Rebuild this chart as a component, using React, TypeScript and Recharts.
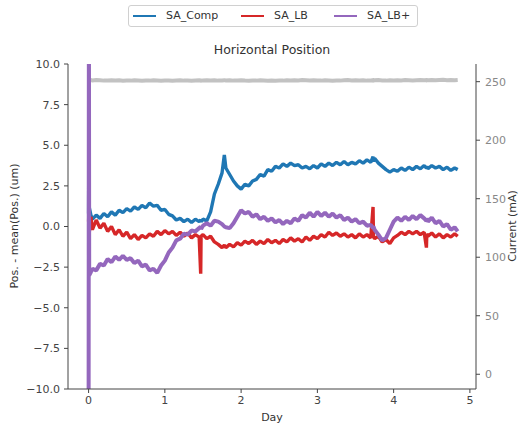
import React from "react"
import { LineChart, Line, XAxis, YAxis } from "recharts"

document.body.style.margin = "0"

// day axis (shared by every series)
const days = [
  0, 0.004, 0.008, 0.03,
  0.05, 0.1, 0.15, 0.2, 0.25, 0.3, 0.35, 0.4, 0.45, 0.5, 0.55, 0.6, 0.65, 0.7, 0.75, 0.8, 0.85, 0.9, 0.95, 1.0, 1.05, 1.1, 1.15, 1.2, 1.25, 1.3, 1.35, 1.4, 1.45,
  1.47, 1.475,
  1.5, 1.55, 1.6, 1.65, 1.7, 1.75,
  1.78,
  1.8, 1.85, 1.9, 1.95, 2.0, 2.05, 2.1, 2.15, 2.2, 2.25, 2.3, 2.35, 2.4, 2.45, 2.5, 2.55, 2.6, 2.65, 2.7, 2.75, 2.8, 2.85, 2.9, 2.95,
  3.0, 3.05, 3.1, 3.15, 3.2, 3.25, 3.3, 3.35, 3.4, 3.45, 3.5, 3.55, 3.6, 3.65, 3.7,
  3.73, 3.735,
  3.75, 3.8, 3.85, 3.9, 3.95, 4.0, 4.05, 4.1, 4.15, 4.2, 4.25, 4.3, 4.35, 4.4,
  4.43, 4.435,
  4.45, 4.5, 4.55, 4.6, 4.65, 4.7, 4.75, 4.8,
  4.84,
]

const saComp = [
  0.8, 5.6, 1.2, 0.7,
  0.45, 0.7, 0.5, 0.8, 0.6, 0.9, 0.7, 1.0, 0.85, 1.1, 0.95, 1.2, 1.05, 1.3, 1.15, 1.45, 1.25, 1.3, 1.0, 1.05, 0.75, 0.65, 0.4, 0.5, 0.3, 0.45, 0.25, 0.45, 0.3,
  0.4, 0.3,
  0.45, 0.35, 0.9, 2.0, 2.6, 3.3,
  4.4,
  3.6, 3.2, 2.8, 2.5, 2.3, 2.6, 2.5, 2.8, 2.9, 3.2, 3.1, 3.5, 3.4, 3.7, 3.6, 3.85, 3.7, 3.9, 3.75, 3.8,
  3.6, 3.7, 3.55, 3.75, 3.6, 3.85, 3.7, 3.9, 3.75, 3.95, 3.8, 4.0, 3.8, 3.95, 3.85, 4.05, 3.9, 4.1, 3.95,
  4.3, 4.0,
  4.2, 3.9, 3.7, 3.5, 3.35, 3.5, 3.4, 3.6, 3.45, 3.65, 3.5, 3.7, 3.55, 3.75,
  3.6, 3.7,
  3.55, 3.75, 3.6, 3.7, 3.5, 3.65, 3.45, 3.6,
  3.5,
]

const saLB = [
  0.3, 0.9, -0.4, 0.6,
  -0.2, 0.4, -0.1, 0.2, -0.3, 0.0, -0.5, -0.2, -0.6, -0.35, -0.75, -0.5, -0.8, -0.55, -0.7, -0.45, -0.6, -0.3, -0.5, -0.25, -0.45, -0.3, -0.55, -0.35, -0.6, -0.4, -0.7, -0.5, -0.65,
  -2.9, -0.6,
  -0.5, -0.75, -0.6, -0.95, -1.1, -1.3,
  -1.15,
  -1.3, -1.1, -1.25, -1.0, -1.15, -0.9, -1.05, -0.85, -1.1, -0.9, -1.05, -0.8, -1.0, -0.85, -1.05, -0.8, -0.95, -0.7, -0.9, -0.75,
  -0.95, -0.65, -0.85, -0.6, -0.75, -0.5, -0.65, -0.35, -0.55, -0.4, -0.6, -0.45, -0.65, -0.5, -0.7, -0.45, -0.65, -0.5, -0.7,
  1.2, -0.6,
  -0.75, -0.6, -0.95, -0.8, -1.05, -0.7, -0.55, -0.35, -0.5, -0.3, -0.45, -0.3, -0.5, -0.35,
  -1.3, -0.45,
  -0.6, -0.4, -0.65, -0.45, -0.7, -0.5, -0.65, -0.45,
  -0.6,
]

const saLBPlus = [
  -14, 14, -3.0, -2.8,
  -2.6, -2.7, -2.3, -2.4, -2.0, -2.2, -1.85, -2.05, -1.8, -2.05, -1.95, -2.25, -2.1, -2.45, -2.35, -2.7, -2.6, -2.85, -2.4, -2.1, -1.6, -1.3, -0.85, -0.75, -0.45, -0.5, -0.25, -0.3, -0.1,
  0.0, -0.15,
  0.05, 0.2, 0.05, 0.35, 0.3, 0.15,
  0.0,
  -0.05, -0.1, 0.2, 0.6, 1.0, 0.8, 0.9, 0.6, 0.75, 0.45, 0.6, 0.35, 0.5, 0.25, 0.4, 0.15, 0.35, 0.2, 0.5, 0.35,
  0.7, 0.55, 0.85, 0.6, 0.9, 0.65, 0.85, 0.6, 0.8, 0.55, 0.7, 0.4, 0.55, 0.3, 0.45, 0.2, 0.3, 0.05, 0.1,
  -0.1, 0.0,
  -0.2, -0.5, -0.85, -0.7, -0.2, 0.3, 0.55, 0.35, 0.6, 0.4, 0.65, 0.45, 0.7, 0.5,
  0.35, 0.5,
  0.3, 0.55, 0.2, 0.35, 0.0, 0.15, -0.2, -0.05,
  -0.3,
]

const current = [
  251.0, 251.2, 251.1, 251.3, 251.0, 251.4, 251.2, 250.9, 251.1, 251.3,
  251.0, 251.2, 250.8, 251.1, 250.9, 251.2, 251.0, 250.8, 251.1, 250.9,
  251.2, 251.0, 250.7, 250.9, 251.1, 250.8, 251.0, 251.2, 250.9, 251.1,
  250.8, 251.0, 251.2, 251.0, 250.9, 251.1, 251.3, 251.0, 251.2, 250.9,
  251.1, 251.3, 251.0, 251.2, 250.9, 251.1, 251.3, 251.0, 250.8, 251.1,
  250.9, 251.2, 251.0, 250.7, 251.0, 250.8, 251.1, 250.9, 251.2, 251.0,
  251.3, 251.1, 251.4, 251.2, 251.0, 251.3, 251.1, 250.9, 251.2, 251.0,
  250.8, 251.1, 250.9, 251.2, 251.4, 251.1, 251.3, 251.0, 251.2, 250.9,
  251.1, 251.3, 251.0, 251.2, 251.4, 251.1, 250.9, 251.2, 251.0, 251.3,
  251.1, 251.4, 251.2, 251.0, 251.3, 251.5, 251.2, 251.4, 251.1, 251.3,
  251.5, 251.2, 251.4, 251.6, 251.3, 251.5, 251.2, 251.4,
]

const posTicks = [-10, -7.5, -5, -2.5, 0, 2.5, 5, 7.5, 10]
const currentTicks = [0, 50, 100, 150, 200, 250]
const dayTicks = [0, 1, 2, 3, 4, 5]

const legendItems = [
  { name: "SA_Comp", color: "#1f77b4" },
  { name: "SA_LB", color: "#d62728" },
  { name: "SA_LB+", color: "#9467bd" },
]

const rows = days.map((d, i) => ({
  day: d,
  comp: saComp[i],
  lb: saLB[i],
  lbp: saLBPlus[i],
  cur: current[i],
}))

const FONT = "'DejaVu Sans', sans-serif"
const tickStyle = { fontSize: 11, fill: "#444", fontFamily: FONT }
const fmtPos = (v: number) => (v < 0 ? "\u2212" + Math.abs(v).toFixed(1) : v.toFixed(1))

export default function App() {
  return (
    <div style={{ position: "relative", width: 523, height: 428, fontFamily: FONT, background: "#fff" }}>
      {/* legend box */}
      <div
        style={{
          position: "absolute", left: 128, top: 5, width: 290, height: 22,
          border: "1px solid #d0d0d0", borderRadius: 3, boxSizing: "border-box",
        }}
      >
        {legendItems.map((it, i) => (
          <div key={it.name} style={{ position: "absolute", left: [4, 112, 205][i], top: 3, display: "flex", alignItems: "center", fontSize: 11, color: "#333" }}>
            <span style={{ display: "inline-block", width: 23, height: 2, background: it.color, marginRight: 10 }} />
            {it.name}
          </div>
        ))}
      </div>
      <div style={{ position: "absolute", left: 68, width: 408, top: 42, textAlign: "center", fontSize: 12.5, color: "#333" }}>
        Horizontal Position
      </div>
      <div style={{ position: "absolute", left: 14, top: 226, fontSize: 11, color: "#333", transform: "translate(-50%, -50%) rotate(-90deg)", whiteSpace: "nowrap" }}>
        Pos. - mean(Pos.) (um)
      </div>
      <div style={{ position: "absolute", left: 512, top: 226, fontSize: 11, color: "#333", transform: "translate(-50%, -50%) rotate(-90deg)", whiteSpace: "nowrap" }}>
        Current (mA)
      </div>
      <div style={{ position: "absolute", left: 68, width: 408, top: 411, textAlign: "center", fontSize: 11, color: "#333" }}>
        Day
      </div>

      <LineChart width={523} height={428} data={rows} margin={{ top: 64, right: 17, bottom: 14, left: 18 }}>
        <XAxis
          dataKey="day"
          type="number"
          domain={[-0.27, 5.08]}
          ticks={dayTicks}
          allowDataOverflow
          tick={tickStyle}
          tickSize={4}
          tickMargin={3}
          height={25}
          stroke="#444"
          tickLine={{ stroke: "#444" }}
        />
        <XAxis
          xAxisId="top"
          orientation="top"
          dataKey="day"
          type="number"
          domain={[-0.27, 5.08]}
          tick={false}
          tickLine={false}
          height={0}
          stroke="#444"
        />
        <YAxis
          yAxisId="left"
          type="number"
          domain={[-10, 10]}
          ticks={posTicks}
          allowDataOverflow
          tickFormatter={fmtPos}
          tick={tickStyle}
          tickSize={4}
          tickMargin={4}
          width={50}
          stroke="#444"
        />
        <YAxis
          yAxisId="right"
          orientation="right"
          type="number"
          domain={[-12.6, 265.1]}
          ticks={currentTicks}
          allowDataOverflow
          tick={{ ...tickStyle, fill: "#888" }}
          tickSize={4}
          tickMargin={5}
          width={30}
          stroke="#444"
        />
        <Line yAxisId="right" dataKey="cur" stroke="#c2c2c2" strokeWidth={4} dot={false} isAnimationActive={false} />
        <Line yAxisId="left" dataKey="comp" stroke="#1f77b4" strokeWidth={3.4} strokeLinejoin="bevel" dot={false} isAnimationActive={false} />
        <Line yAxisId="left" dataKey="lb" stroke="#d62728" strokeWidth={3.4} strokeLinejoin="bevel" dot={false} isAnimationActive={false} />
        <Line yAxisId="left" dataKey="lbp" stroke="#9467bd" strokeWidth={4} strokeLinejoin="bevel" dot={false} isAnimationActive={false} />
      </LineChart>
    </div>
  )
}
